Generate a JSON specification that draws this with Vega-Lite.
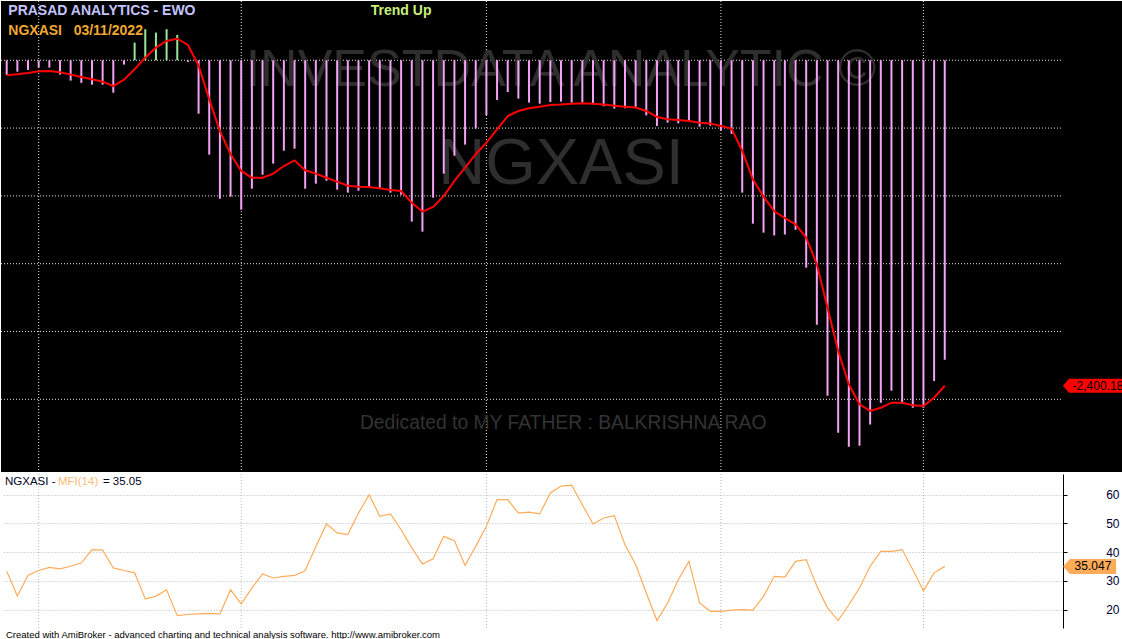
{
  "$schema": "https://vega.github.io/schema/vega-lite/v6.json",
  "padding": 0,
  "background": "white",
  "spacing": 0,
  "config": {"view": {"stroke": null}, "font": "Liberation Sans"},
  "datasets": {
    "main": [
      {"i":0,"ewo":-108,"sig":-111,"mfi":33.4},{"i":1,"ewo":-84,"sig":-103,"mfi":24.7},{"i":2,"ewo":-72,"sig":-94,"mfi":32.0},{"i":3,"ewo":-54,"sig":-81,"mfi":33.6},{"i":4,"ewo":-54,"sig":-79,"mfi":34.7},{"i":5,"ewo":-106,"sig":-88,"mfi":34.2},{"i":6,"ewo":-150,"sig":-106,"mfi":35.1},{"i":7,"ewo":-167,"sig":-123,"mfi":36.2},{"i":8,"ewo":-180,"sig":-140,"mfi":40.9},{"i":9,"ewo":-180,"sig":-158,"mfi":40.7},
      {"i":10,"ewo":-239,"sig":-190,"mfi":34.5},{"i":11,"ewo":-32,"sig":-143,"mfi":33.6},{"i":12,"ewo":130,"sig":-66,"mfi":32.8},{"i":13,"ewo":229,"sig":19,"mfi":23.7},{"i":14,"ewo":204,"sig":93,"mfi":24.7},{"i":15,"ewo":229,"sig":142,"mfi":26.9},{"i":16,"ewo":187,"sig":159,"mfi":17.9},{"i":17,"ewo":-12,"sig":113,"mfi":18.3},{"i":18,"ewo":-394,"sig":-40,"mfi":18.5},{"i":19,"ewo":-696,"sig":-288,"mfi":18.7},
      {"i":20,"ewo":-1021,"sig":-521,"mfi":18.5},{"i":21,"ewo":-1006,"sig":-693,"mfi":26.9},{"i":22,"ewo":-1102,"sig":-816,"mfi":22.0},{"i":23,"ewo":-947,"sig":-866,"mfi":27.5},{"i":24,"ewo":-844,"sig":-866,"mfi":32.4},{"i":25,"ewo":-762,"sig":-836,"mfi":31.0},{"i":26,"ewo":-667,"sig":-780,"mfi":31.6},{"i":27,"ewo":-652,"sig":-738,"mfi":31.9},{"i":28,"ewo":-947,"sig":-811,"mfi":33.6},{"i":29,"ewo":-910,"sig":-836,"mfi":42.0},
      {"i":30,"ewo":-888,"sig":-866,"mfi":49.8},{"i":31,"ewo":-954,"sig":-895,"mfi":46.7},{"i":32,"ewo":-976,"sig":-925,"mfi":46.1},{"i":33,"ewo":-962,"sig":-932,"mfi":53.6},{"i":34,"ewo":-940,"sig":-934,"mfi":60.0},{"i":35,"ewo":-947,"sig":-944,"mfi":52.5},{"i":36,"ewo":-976,"sig":-956,"mfi":53.3},{"i":37,"ewo":-991,"sig":-964,"mfi":47.8},{"i":38,"ewo":-1190,"sig":-1050,"mfi":41.5},{"i":39,"ewo":-1264,"sig":-1116,"mfi":35.9},
      {"i":40,"ewo":-1013,"sig":-1082,"mfi":37.7},{"i":41,"ewo":-836,"sig":-1001,"mfi":45.5},{"i":42,"ewo":-704,"sig":-890,"mfi":44.0},{"i":43,"ewo":-622,"sig":-792,"mfi":35.4},{"i":44,"ewo":-504,"sig":-693,"mfi":42.0},{"i":45,"ewo":-404,"sig":-607,"mfi":49.0},{"i":46,"ewo":-293,"sig":-509,"mfi":58.3},{"i":47,"ewo":-234,"sig":-411,"mfi":58.3},{"i":48,"ewo":-283,"sig":-374,"mfi":53.6},{"i":49,"ewo":-312,"sig":-354,"mfi":53.9},
      {"i":50,"ewo":-320,"sig":-342,"mfi":53.3},{"i":51,"ewo":-308,"sig":-330,"mfi":60.6},{"i":52,"ewo":-305,"sig":-327,"mfi":63.0},{"i":53,"ewo":-312,"sig":-320,"mfi":63.3},{"i":54,"ewo":-312,"sig":-317,"mfi":56.5},{"i":55,"ewo":-320,"sig":-320,"mfi":49.8},{"i":56,"ewo":-339,"sig":-327,"mfi":51.9},{"i":57,"ewo":-357,"sig":-335,"mfi":52.7},{"i":58,"ewo":-354,"sig":-342,"mfi":42.6},{"i":59,"ewo":-349,"sig":-349,"mfi":35.7},
      {"i":60,"ewo":-406,"sig":-374,"mfi":25.8},{"i":61,"ewo":-485,"sig":-418,"mfi":16.2},{"i":62,"ewo":-460,"sig":-435,"mfi":22.3},{"i":63,"ewo":-465,"sig":-440,"mfi":30.4},{"i":64,"ewo":-450,"sig":-448,"mfi":36.8},{"i":65,"ewo":-490,"sig":-460,"mfi":22.3},{"i":66,"ewo":-483,"sig":-467,"mfi":19.4},{"i":67,"ewo":-518,"sig":-485,"mfi":19.4},{"i":68,"ewo":-543,"sig":-504,"mfi":19.8},{"i":69,"ewo":-976,"sig":-669,"mfi":20.0},
      {"i":70,"ewo":-1205,"sig":-878,"mfi":19.8},{"i":71,"ewo":-1271,"sig":-1006,"mfi":24.6},{"i":72,"ewo":-1292,"sig":-1114,"mfi":31.6},{"i":73,"ewo":-1285,"sig":-1163,"mfi":31.3},{"i":74,"ewo":-1250,"sig":-1210,"mfi":36.8},{"i":75,"ewo":-1529,"sig":-1308,"mfi":37.4},{"i":76,"ewo":-1950,"sig":-1504,"mfi":28.1},{"i":77,"ewo":-2473,"sig":-1825,"mfi":20.6},{"i":78,"ewo":-2746,"sig":-2144,"mfi":16.2},{"i":79,"ewo":-2850,"sig":-2389,"mfi":21.7},
      {"i":80,"ewo":-2842,"sig":-2537,"mfi":27.5},{"i":81,"ewo":-2685,"sig":-2586,"mfi":35.1},{"i":82,"ewo":-2525,"sig":-2562,"mfi":40.3},{"i":83,"ewo":-2437,"sig":-2525,"mfi":40.3},{"i":84,"ewo":-2532,"sig":-2525,"mfi":40.9},{"i":85,"ewo":-2562,"sig":-2544,"mfi":33.9},{"i":86,"ewo":-2562,"sig":-2549,"mfi":26.6},{"i":87,"ewo":-2365,"sig":-2488,"mfi":32.8},{"i":88,"ewo":-2208,"sig":-2400.18,"mfi":35.05}
    ],
    "hgrid": [{"g":0},{"g":-500},{"g":-1000},{"g":-1500},{"g":-2000},{"g":-2500}],
    "vgrid": [{"v":3},{"v":22},{"v":45},{"v":67},{"v":86}]
  },
  "vconcat": [
    {
      "width": 1122,
      "height": 471,
      "view": {"fill": "black", "stroke": null},
      "layer": [
        {
          "data": {"name": "vgrid"},
          "mark": {"type": "rule", "color": "#e6e6e6", "strokeDash": [1, 2], "strokeWidth": 1},
          "encoding": {
            "x": {"field": "v", "type": "quantitative", "scale": {"domain": [-0.535, 104.72], "nice": false, "zero": false}, "axis": null}
          }
        },
        {
          "data": {"name": "hgrid"},
          "mark": {"type": "rule", "color": "#e6e6e6", "strokeDash": [1, 2], "strokeWidth": 1},
          "encoding": {
            "y": {"field": "g", "type": "quantitative", "scale": {"domain": [-3036, 437], "nice": false, "zero": false}, "axis": null},
            "x": {"datum": -0.535},
            "x2": {"datum": 99.09}
          }
        },
        {
          "data": {"values": [{}]},
          "mark": {"type": "text", "text": "INVESTDATA ANALYTIC ©", "align": "center", "baseline": "alphabetic", "fontSize": 52, "color": "#2e2e2e", "font": "Liberation Sans"},
          "encoding": {"x": {"datum": 52}, "y": {"datum": -190, "axis": null}}
        },
        {
          "data": {"values": [{}]},
          "mark": {"type": "text", "text": "NGXASI", "align": "center", "baseline": "alphabetic", "fontSize": 65, "color": "#2e2e2e", "font": "Liberation Sans"},
          "encoding": {"x": {"datum": 52}, "y": {"datum": -912, "axis": null}}
        },
        {
          "data": {"values": [{}]},
          "mark": {"type": "text", "text": "Dedicated to MY FATHER : BALKRISHNA RAO", "align": "center", "baseline": "alphabetic", "fontSize": 19.3, "color": "#333333", "font": "Liberation Sans"},
          "encoding": {"x": {"datum": 52.2}, "y": {"datum": -2719, "axis": null}}
        },
        {
          "data": {"name": "main"},
          "mark": {"type": "rule", "strokeWidth": 2},
          "encoding": {
            "x": {"field": "i", "type": "quantitative"},
            "y": {"field": "ewo", "type": "quantitative", "axis": null},
            "y2": {"datum": 0},
            "color": {"condition": {"test": "datum.ewo > 0", "value": "#98e698"}, "value": "#f5a2f5"}
          }
        },
        {
          "data": {"name": "main"},
          "mark": {"type": "line", "color": "#ff0000", "strokeWidth": 2},
          "encoding": {
            "x": {"field": "i", "type": "quantitative"},
            "y": {"field": "sig", "type": "quantitative", "axis": null}
          }
        },
        {
          "data": {"values": [{}]},
          "mark": {"type": "text", "text": "PRASAD ANALYTICS - EWO", "align": "left", "baseline": "alphabetic", "fontSize": 14, "fontWeight": "bold", "color": "#c4c4ff", "font": "Liberation Sans"},
          "encoding": {"x": {"datum": 0.15}, "y": {"datum": 334, "axis": null}}
        },
        {
          "data": {"values": [{}]},
          "mark": {"type": "text", "text": "NGXASI\u00a0\u00a0\u00a003/11/2022", "align": "left", "baseline": "alphabetic", "fontSize": 14, "fontWeight": "bold", "color": "#f0a830", "font": "Liberation Sans"},
          "encoding": {"x": {"datum": 0.15}, "y": {"datum": 187, "axis": null}}
        },
        {
          "data": {"values": [{}]},
          "mark": {"type": "text", "text": "Trend Up", "align": "center", "baseline": "alphabetic", "fontSize": 14, "fontWeight": "bold", "color": "#c8f07a", "font": "Liberation Sans"},
          "encoding": {"x": {"datum": 37}, "y": {"datum": 334, "axis": null}}
        },
        {
          "data": {"values": [{}]},
          "mark": {"type": "point", "shape": "M -1 0 L -0.81 -0.226 L 1 -0.226 L 1 0.226 L -0.81 0.226 Z", "size": 3844, "filled": true, "color": "#ff0000", "opacity": 1, "strokeWidth": 0},
          "encoding": {"x": {"datum": 102.0}, "y": {"datum": -2400.18, "axis": null}}
        },
        {
          "data": {"values": [{}]},
          "mark": {"type": "text", "text": "-2,400.18", "align": "center", "baseline": "middle", "fontSize": 12, "color": "#000000", "font": "Liberation Sans"},
          "encoding": {"x": {"datum": 102.37}, "y": {"datum": -2400.18, "axis": null}}
        }
      ]
    },
    {
      "width": 1062,
      "height": 154,
      "view": {"fill": "white", "stroke": null},
      "resolve": {"axis": {"y": "independent"}},
      "layer": [
        {
          "data": {"name": "vgrid"},
          "mark": {"type": "rule", "color": "#b8b8b8", "strokeDash": [1, 2], "strokeWidth": 1},
          "encoding": {
            "x": {"field": "v", "type": "quantitative", "scale": {"domain": [-0.535, 99.09], "nice": false, "zero": false}, "axis": null}
          }
        },
        {
          "data": {"name": "main"},
          "mark": {"type": "line", "color": "#ffac5a", "strokeWidth": 1.2},
          "encoding": {
            "x": {"field": "i", "type": "quantitative"},
            "y": {
              "field": "mfi", "type": "quantitative",
              "scale": {"domain": [13.6, 67.2], "nice": false, "zero": false},
              "axis": {
                "orient": "right", "values": [20, 30, 40, 50, 60], "title": null,
                "grid": true, "gridColor": "#b8b8b8", "gridDash": [1, 2],
                "domainColor": "#000000", "domainWidth": 1,
                "tickColor": "#000000", "tickSize": 4,
                "labelAlign": "right", "labelPadding": 52, "labelBaseline": "middle",
                "labelColor": "#000033", "labelFontSize": 12, "labelFont": "Liberation Sans",
                "labelFlush": false, "labelOverlap": false
              }
            }
          }
        },
        {
          "data": {"values": [{}]},
          "mark": {"type": "point", "shape": "M -1 0 L -0.74 -0.283 L 1 -0.283 L 1 0.283 L -0.74 0.283 Z", "size": 2809, "filled": true, "color": "#ffac5a", "opacity": 1, "strokeWidth": 0},
          "encoding": {"x": {"datum": 101.58}, "y": {"datum": 35.047, "axis": null}}
        },
        {
          "data": {"values": [{}]},
          "mark": {"type": "text", "text": "35.047", "align": "center", "baseline": "middle", "fontSize": 12, "color": "#000000", "font": "Liberation Sans"},
          "encoding": {"x": {"datum": 101.9}, "y": {"datum": 35.047, "axis": null}}
        },
        {
          "data": {"values": [{}]},
          "mark": {"type": "text", "text": "NGXASI -", "align": "left", "baseline": "alphabetic", "fontSize": 11.5, "color": "#000022", "font": "Liberation Sans"},
          "encoding": {"x": {"datum": -0.16}, "y": {"datum": 63.5, "axis": null}}
        },
        {
          "data": {"values": [{}]},
          "mark": {"type": "text", "text": "MFI(14)", "align": "left", "baseline": "alphabetic", "fontSize": 11.5, "color": "#ffb97a", "font": "Liberation Sans"},
          "encoding": {"x": {"datum": 4.81}, "y": {"datum": 63.5, "axis": null}}
        },
        {
          "data": {"values": [{}]},
          "mark": {"type": "text", "text": "= 35.05", "align": "left", "baseline": "alphabetic", "fontSize": 11.5, "color": "#000022", "font": "Liberation Sans"},
          "encoding": {"x": {"datum": 9.03}, "y": {"datum": 63.5, "axis": null}}
        },
        {
          "data": {"values": [{}]},
          "mark": {"type": "text", "text": "Created with AmiBroker - advanced charting and technical analysis software. http://www.amibroker.com", "align": "left", "baseline": "alphabetic", "fontSize": 9.5, "color": "#000000", "font": "Liberation Sans"},
          "encoding": {"x": {"datum": -0.07}, "y": {"datum": 10.16, "axis": null}}
        }
      ]
    }
  ]
}
